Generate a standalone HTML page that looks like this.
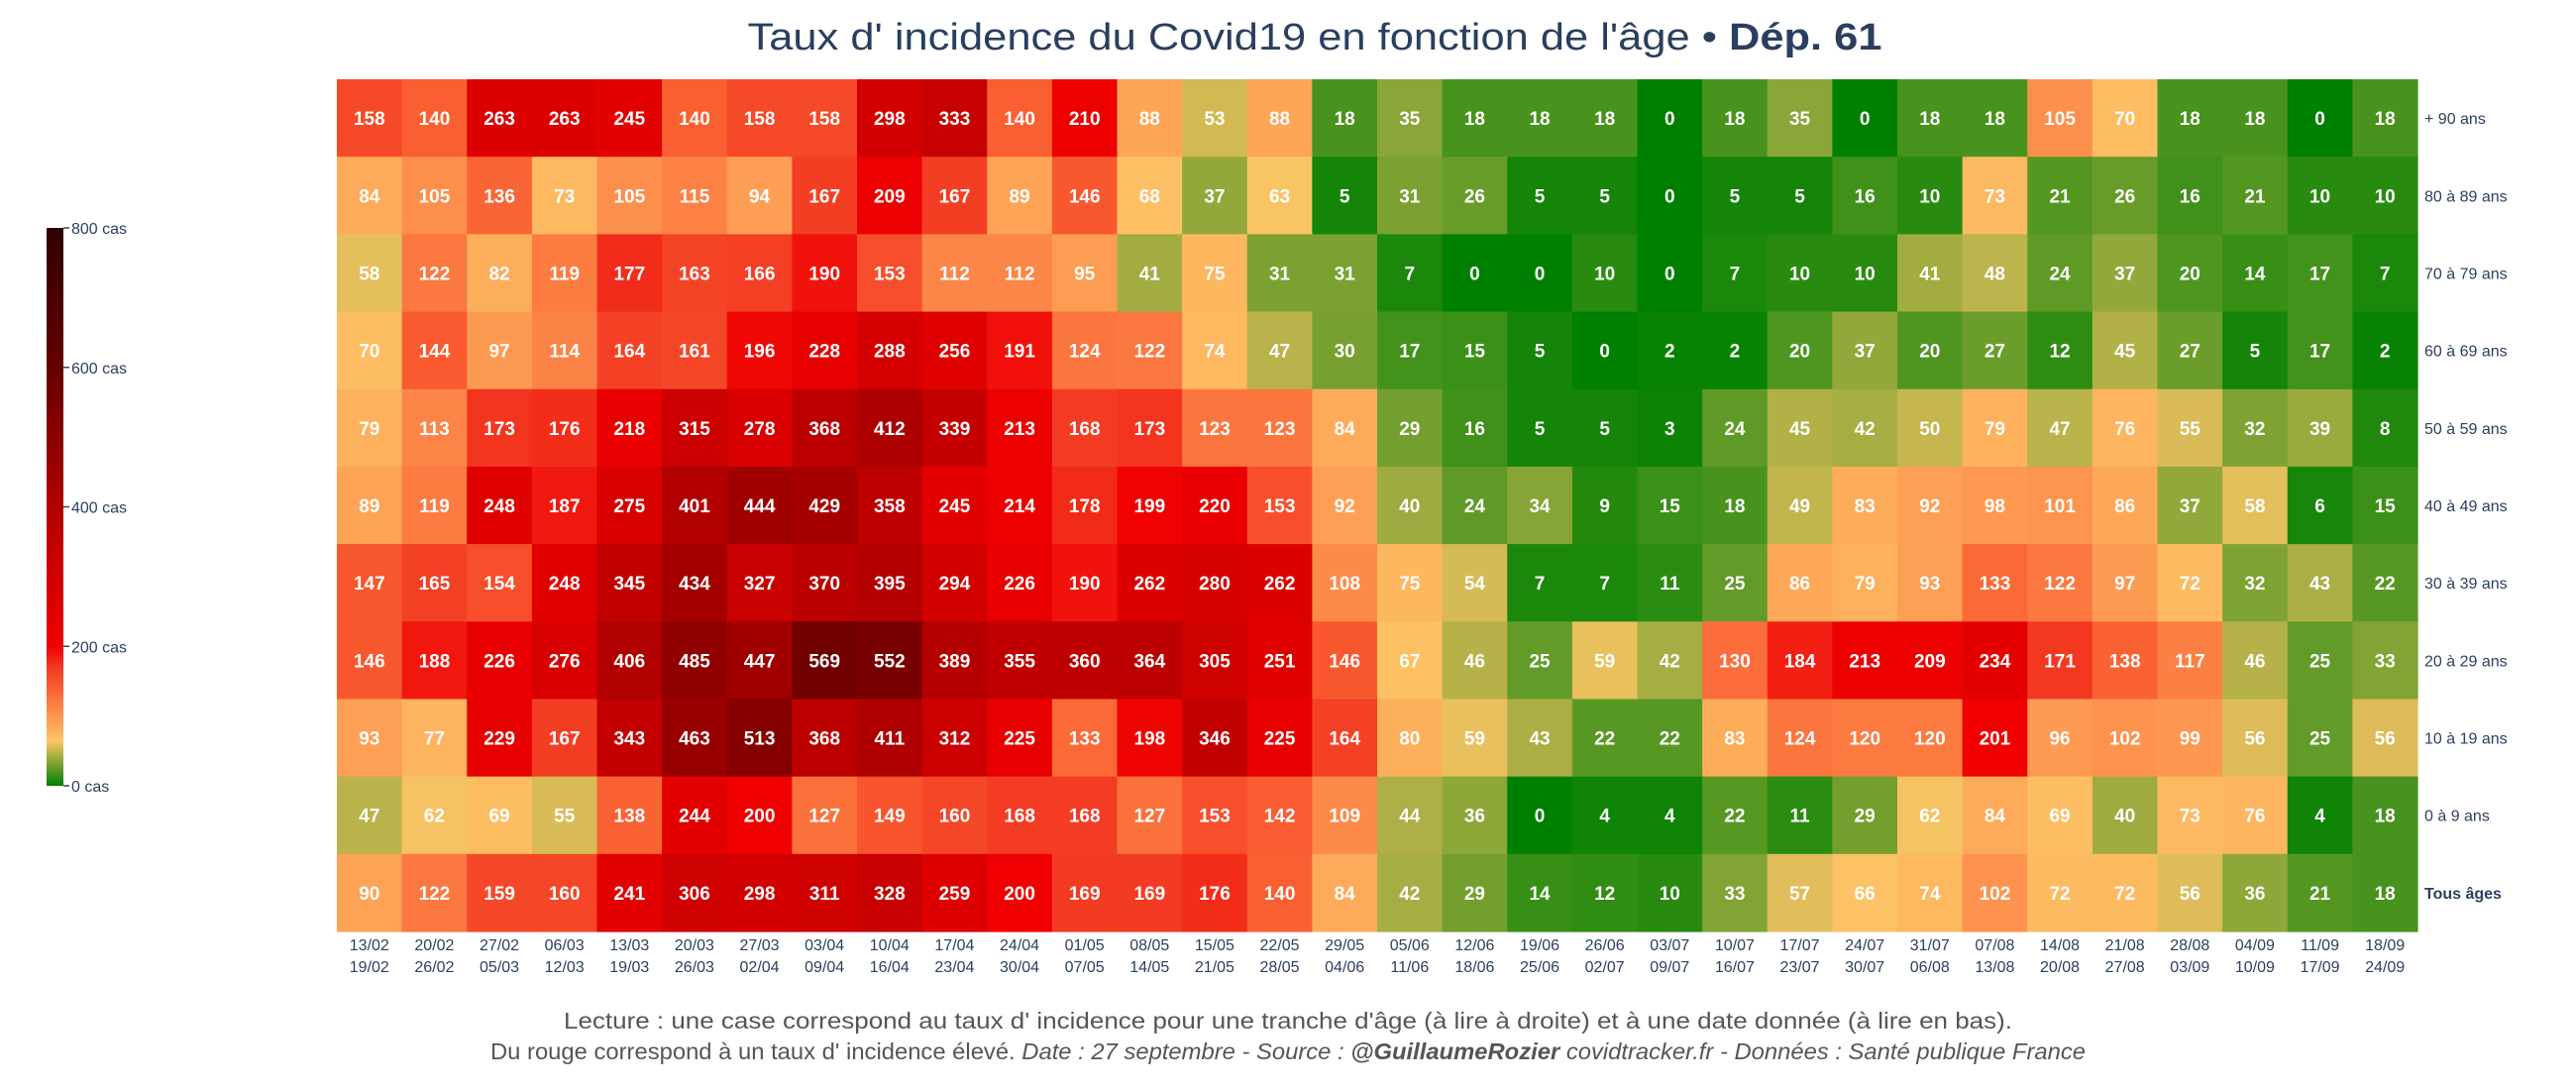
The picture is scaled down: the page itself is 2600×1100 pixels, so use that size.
<!DOCTYPE html>
<html><head><meta charset="utf-8"><style>
html,body{margin:0;padding:0;background:#fff;}
svg{display:block;font-family:"Liberation Sans",sans-serif;}
</style></head><body>
<svg id="chart" width="2600" height="1100" viewBox="0 0 2600 1100" xmlns="http://www.w3.org/2000/svg">
<defs>
<linearGradient id="cbgrad" x1="0" y1="1" x2="0" y2="0">
<stop offset="0" stop-color="#008000"/>
<stop offset="0.08" stop-color="#fdc566"/>
<stop offset="0.125" stop-color="#fd9650"/>
<stop offset="0.175" stop-color="#fa5f32"/>
<stop offset="0.2125" stop-color="#f33a22"/>
<stop offset="0.25" stop-color="#f00000"/>
<stop offset="0.5" stop-color="#b20000"/>
<stop offset="0.75" stop-color="#640000"/>
<stop offset="1" stop-color="#300000"/>
</linearGradient>
</defs>
<text x="1327" y="50" text-anchor="middle" font-size="38" fill="#2a3f5f" textLength="1145" lengthAdjust="spacingAndGlyphs">Taux d' incidence du Covid19 en fonction de l'âge • <tspan font-weight="bold">Dép. 61</tspan></text>
<g id="cells"></g>
<g id="ylabels"></g>
<g id="xlabels"></g>
<g>
<rect x="47" y="230" width="17" height="563" fill="url(#cbgrad)"/>
<g id="cbticks"></g>
</g>
<text x="1300" y="1038" text-anchor="middle" font-size="23" fill="#555" textLength="1462" lengthAdjust="spacingAndGlyphs">Lecture : une case correspond au taux d' incidence pour une tranche d'âge (à lire à droite) et à une date donnée (à lire en bas).</text>
<text x="1300" y="1069" text-anchor="middle" font-size="23" fill="#555" textLength="1610" lengthAdjust="spacingAndGlyphs">Du rouge correspond à un taux d' incidence élevé.  <tspan font-style="italic">Date : 27 septembre - Source : </tspan><tspan font-style="italic" font-weight="bold">@GuillaumeRozier</tspan><tspan font-style="italic"> covidtracker.fr - Données : Santé publique France</tspan></text>
</svg>
<script>
const rowLabels = ["+ 90 ans","80 à 89 ans","70 à 79 ans","60 à 69 ans","50 à 59 ans","40 à 49 ans","30 à 39 ans","20 à 29 ans","10 à 19 ans","0 à 9 ans","Tous âges"];
const dateStart = ["13/02","20/02","27/02","06/03","13/03","20/03","27/03","03/04","10/04","17/04","24/04","01/05","08/05","15/05","22/05","29/05","05/06","12/06","19/06","26/06","03/07","10/07","17/07","24/07","31/07","07/08","14/08","21/08","28/08","04/09","11/09","18/09"];
const dateEnd = ["19/02","26/02","05/03","12/03","19/03","26/03","02/04","09/04","16/04","23/04","30/04","07/05","14/05","21/05","28/05","04/06","11/06","18/06","25/06","02/07","09/07","16/07","23/07","30/07","06/08","13/08","20/08","27/08","03/09","10/09","17/09","24/09"];
const r90 = [158,140,263,263,245,140,158,158,298,333,140,210,88,53,88,18,35,18,18,18,0,18,35,0,18,18,105,70,18,18,0,18];
const r80 = [84,105,136,73,105,115,94,167,209,167,89,146,68,37,63,5,31,26,5,5,0,5,5,16,10,73,21,26,16,21,10,10];
const r70 = [58,122,82,119,177,163,166,190,153,112,112,95,41,75,31,31,7,0,0,10,0,7,10,10,41,48,24,37,20,14,17,7];
const r60 = [70,144,97,114,164,161,196,228,288,256,191,124,122,74,47,30,17,15,5,0,2,2,20,37,20,27,12,45,27,5,17,2];
const r50 = [79,113,173,176,218,315,278,368,412,339,213,168,173,123,123,84,29,16,5,5,3,24,45,42,50,79,47,76,55,32,39,8];
const r40 = [89,119,248,187,275,401,444,429,358,245,214,178,199,220,153,92,40,24,34,9,15,18,49,83,92,98,101,86,37,58,6,15];
const r30 = [147,165,154,248,345,434,327,370,395,294,226,190,262,280,262,108,75,54,7,7,11,25,86,79,93,133,122,97,72,32,43,22];
const r20 = [146,188,226,276,406,485,447,569,552,389,355,360,364,305,251,146,67,46,25,59,42,130,184,213,209,234,171,138,117,46,25,33];
const r10 = [93,77,229,167,343,463,513,368,411,312,225,133,198,346,225,164,80,59,43,22,22,83,124,120,120,201,96,102,99,56,25,56];
const r0 = [47,62,69,55,138,244,200,127,149,160,168,168,127,153,142,109,44,36,0,4,4,22,11,29,62,84,69,40,73,76,4,18];
const rAll = [90,122,159,160,241,306,298,311,328,259,200,169,169,176,140,84,42,29,14,12,10,33,57,66,74,102,72,72,56,36,21,18];
const cbTicks = [0,200,400,600,800];

const rows = [r90,r80,r70,r60,r50,r40,r30,r20,r10,r0,rAll];
const NS = "http://www.w3.org/2000/svg";
const X0 = 340, X1 = 2440, Y0 = 80, Y1 = 940;
const cw = (X1 - X0) / dateStart.length, rh = (Y1 - Y0) / rowLabels.length;
const xPos = i => X0 + i * cw;
const yPos = j => Y0 + j * rh;
const stops = [[0,[0,128,0]],[64,[253,197,102]],[100,[253,150,80]],[140,[250,95,50]],[170,[243,58,34]],[200,[240,0,0]],[400,[178,0,0]],[600,[100,0,0]],[800,[48,0,0]]];
function color(v){
  for(let k=1;k<stops.length;k++){
    if(v<=stops[k][0]){
      const a=stops[k-1],b=stops[k],t=(v-a[0])/(b[0]-a[0]);
      const c=a[1].map((x,i)=>Math.round(x+(b[1][i]-x)*t));
      return `rgb(${c[0]},${c[1]},${c[2]})`;
    }
  }
  return "rgb(48,0,0)";
}
function mk(tag, attrs, parent, txt){
  const e=document.createElementNS(NS,tag);
  for(const k in attrs) e.setAttribute(k,attrs[k]);
  if(txt!==undefined) e.textContent=txt;
  parent.appendChild(e); return e;
}
const gc=document.getElementById('cells');
rows.forEach((row,j)=>{
  row.forEach((v,i)=>{
    const r=mk('rect',{x:xPos(i),y:yPos(j),width:cw+0.6,height:rh+0.6,fill:color(v)},gc);
    
    
    const t=mk('text',{x:xPos(i)+cw/2,y:yPos(j)+rh/2+7,'text-anchor':'middle','font-size':19,'font-weight':'bold',fill:'#fff'},gc,String(v));
    
    
  });
});
const gy=document.getElementById('ylabels');
rowLabels.forEach((l,j)=>{
  const t=mk('text',{x:X1+7,y:yPos(j)+rh/2+6,'font-size':16,fill:'#2a3f5f','font-weight':j===rowLabels.length-1?'bold':'normal'},gy,l);
  
  
});
const gx=document.getElementById('xlabels');
dateStart.forEach((d,i)=>{
  const t=mk('text',{x:xPos(i)+cw/2,y:959,'text-anchor':'middle','font-size':16,fill:'#2a3f5f'},gx,d);
  
  
  const t2=mk('text',{x:xPos(i)+cw/2,y:981,'text-anchor':'middle','font-size':16,fill:'#2a3f5f'},gx,dateEnd[i]);
  
  
});
const gt=document.getElementById('cbticks');
cbTicks.forEach(v=>{
  const y=793-(v/800)*563;
  const l=mk('line',{x1:64,x2:70,y1:y,y2:y,stroke:'#444','stroke-width':1.5},gt);
  
  
  const t=mk('text',{x:72,y:y+6,'font-size':16,fill:'#2a3f5f'},gt,v+' cas');
  
  
});
</script>
</body></html>
